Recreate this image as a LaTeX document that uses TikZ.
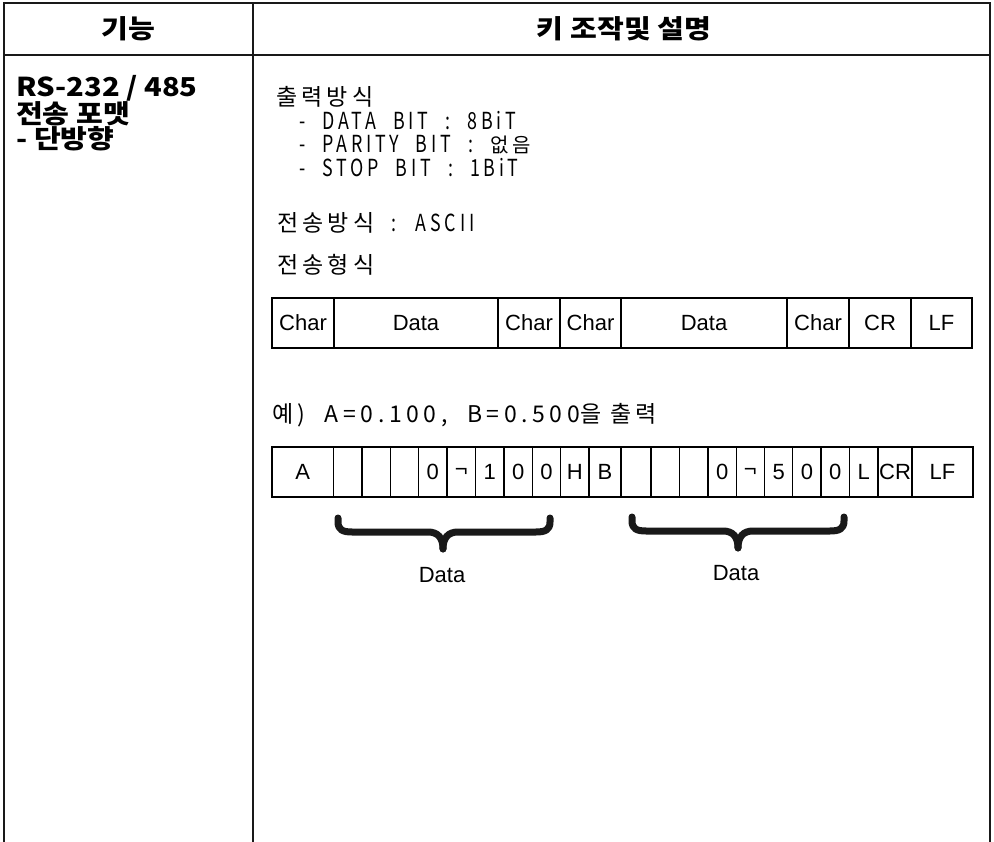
\documentclass[tikz,border=0pt]{standalone}
\usepackage{fontspec}
\setmainfont{Liberation Sans}
\newfontfamily\kofont{Noto Sans CJK KR}
\newfontfamily\kowide[FakeStretch=1.12]{Noto Sans CJK KR}
\newfontfamily\kospaced[LetterSpace=18]{Noto Sans CJK KR}
\newfontfamily\konarrow[FakeStretch=0.76,LetterSpace=16,WordSpace=2.2]{Noto Sans CJK KR}
\newfontfamily\kolatin[LetterSpace=20,WordSpace=2]{Noto Sans CJK KR}

\begin{document}
\begin{tikzpicture}[x=1pt, y=-1pt, font=\kofont,
    frame/.style={line width=2pt, black!90},
    cell/.style={draw, line width=1.3pt, anchor=north west, inner sep=0pt, outer sep=0pt,
                 minimum height=50pt, font=\rmfamily\fontsize{22}{24}\selectfont},
    head/.style={font=\kowide\bfseries\fontsize{26}{28}\selectfont},
    func/.style={anchor=west, inner sep=0pt, font=\kowide\bfseries\fontsize{26}{26}\selectfont},
    desc/.style={anchor=west, inner sep=0pt, font=\fontsize{23}{24}\selectfont},
    bits/.style={anchor=west, inner sep=0pt, font=\fontsize{23.5}{24}\selectfont},
    brace/.style={line width=7pt, line cap=round, line join=round, black!90},
    label/.style={font=\rmfamily\fontsize{22}{24}\selectfont}]
    \useasboundingbox (0,0) rectangle (994,842);

    % Outer frame, header line and column divider
    \draw[frame] (4,842) -- (4,3) -- (990,3) -- (990,842);
    \draw[frame] (4,55) -- (990,55);
    \draw[frame] (253,3) -- (253,842);

    % Header
    \node[head] (hfunc) at (128,29) {기능};
    \node[head] (hkey) at (624,29) {키 조작및 설명};

    % Function name
    \node[func] (func1) at (16,88) {RS-232 / 485};
    \node[func] (func2) at (16,113.5) {전송 포맷};
    \node[func] (func3) at (16,139) {- 단방향};

    % Output settings
    \node[desc] (outmode) at (276,97) {\kospaced 출력방식};
    \node[bits] (bitdata) at (299,121) {\konarrow - DATA BIT : 8BiT};
    \node[bits] (bitpar) at (299,145) {\konarrow - PARITY BIT :~{\kospaced\fontsize{20}{22}\selectfont 없음}};
    \node[bits] (bitstop) at (299,168) {\konarrow - STOP BIT : 1BiT};
    \node[desc] (txmode) at (277,223) {\kospaced 전송방식{\konarrow\fontsize{23.5}{24}\selectfont{} : ASCII}};
    \node[desc] (txform) at (277,265) {\kospaced 전송형식};

    % Frame layout
    \node[cell, minimum width=62pt] (f1) at (272,298) {Char};
    \node[cell, minimum width=164pt] (f2) at (334,298) {Data};
    \node[cell, minimum width=62pt] (f3) at (498,298) {Char};
    \node[cell, minimum width=61pt] (f4) at (560,298) {Char};
    \node[cell, minimum width=166pt] (f5) at (621,298) {Data};
    \node[cell, minimum width=62pt] (f6) at (787,298) {Char};
    \node[cell, minimum width=62pt] (f7) at (849,298) {CR};
    \node[cell, minimum width=61pt] (f8) at (911,298) {LF};

    % Example
    \node[desc] (example) at (272,415) {\kospaced 예)\kolatin{} A=0.100, B=0.500\kospaced 을 출력};

    \node[cell, minimum width=61.5pt] (e1) at (272,447) {A};
    \node[cell, minimum width=28.5pt] (e2) at (333.5,447) {};
    \node[cell, minimum width=28.3pt] (e3) at (362,447) {};
    \node[cell, minimum width=28.4pt] (e4) at (390.3,447) {};
    \node[cell, minimum width=28.3pt] (e5) at (418.7,447) {0};
    \node[cell, minimum width=28.5pt] (e6) at (447,447) {¬};
    \node[cell, minimum width=28.5pt] (e7) at (475.5,447) {1};
    \node[cell, minimum width=28.3pt] (e8) at (504,447) {0};
    \node[cell, minimum width=28.4pt] (e9) at (532.3,447) {0};
    \node[cell, minimum width=28.3pt] (e10) at (560.7,447) {H};
    \node[cell, minimum width=32pt] (e11) at (589,447) {B};
    \node[cell, minimum width=30pt] (e12) at (621,447) {};
    \node[cell, minimum width=28.5pt] (e13) at (651,447) {};
    \node[cell, minimum width=28.5pt] (e14) at (679.5,447) {};
    \node[cell, minimum width=28.3pt] (e15) at (708,447) {0};
    \node[cell, minimum width=28.2pt] (e16) at (736.3,447) {¬};
    \node[cell, minimum width=28.3pt] (e17) at (764.5,447) {5};
    \node[cell, minimum width=28.2pt] (e18) at (792.8,447) {0};
    \node[cell, minimum width=28.5pt] (e19) at (821,447) {0};
    \node[cell, minimum width=28.5pt] (e20) at (849.5,447) {L};
    \node[cell, minimum width=34pt] (e21) at (878,447) {CR};
    \node[cell, minimum width=61pt] (e22) at (912,447) {LF};

    % Braces under the data fields
    \draw[brace] (338,518) -- (338,522) .. controls (338,530) and (343,532) .. (352,532)
        -- (428,532) .. controls (438,532) and (443,538) .. (443,549);
    \draw[brace] (550,518) -- (550,522) .. controls (550,530) and (545,532) .. (536,532)
        -- (458,532) .. controls (448,532) and (443,538) .. (443,549);
    \draw[brace] (632,517) -- (632,521) .. controls (632,529) and (637,531) .. (646,531)
        -- (723,531) .. controls (733,531) and (738,537) .. (738,548);
    \draw[brace] (844,517) -- (844,521) .. controls (844,529) and (839,531) .. (830,531)
        -- (753,531) .. controls (743,531) and (738,537) .. (738,548);
    \node[label] (dataA) at (442,575) {Data};
    \node[label] (dataB) at (736,573) {Data};
\end{tikzpicture}
\end{document}
